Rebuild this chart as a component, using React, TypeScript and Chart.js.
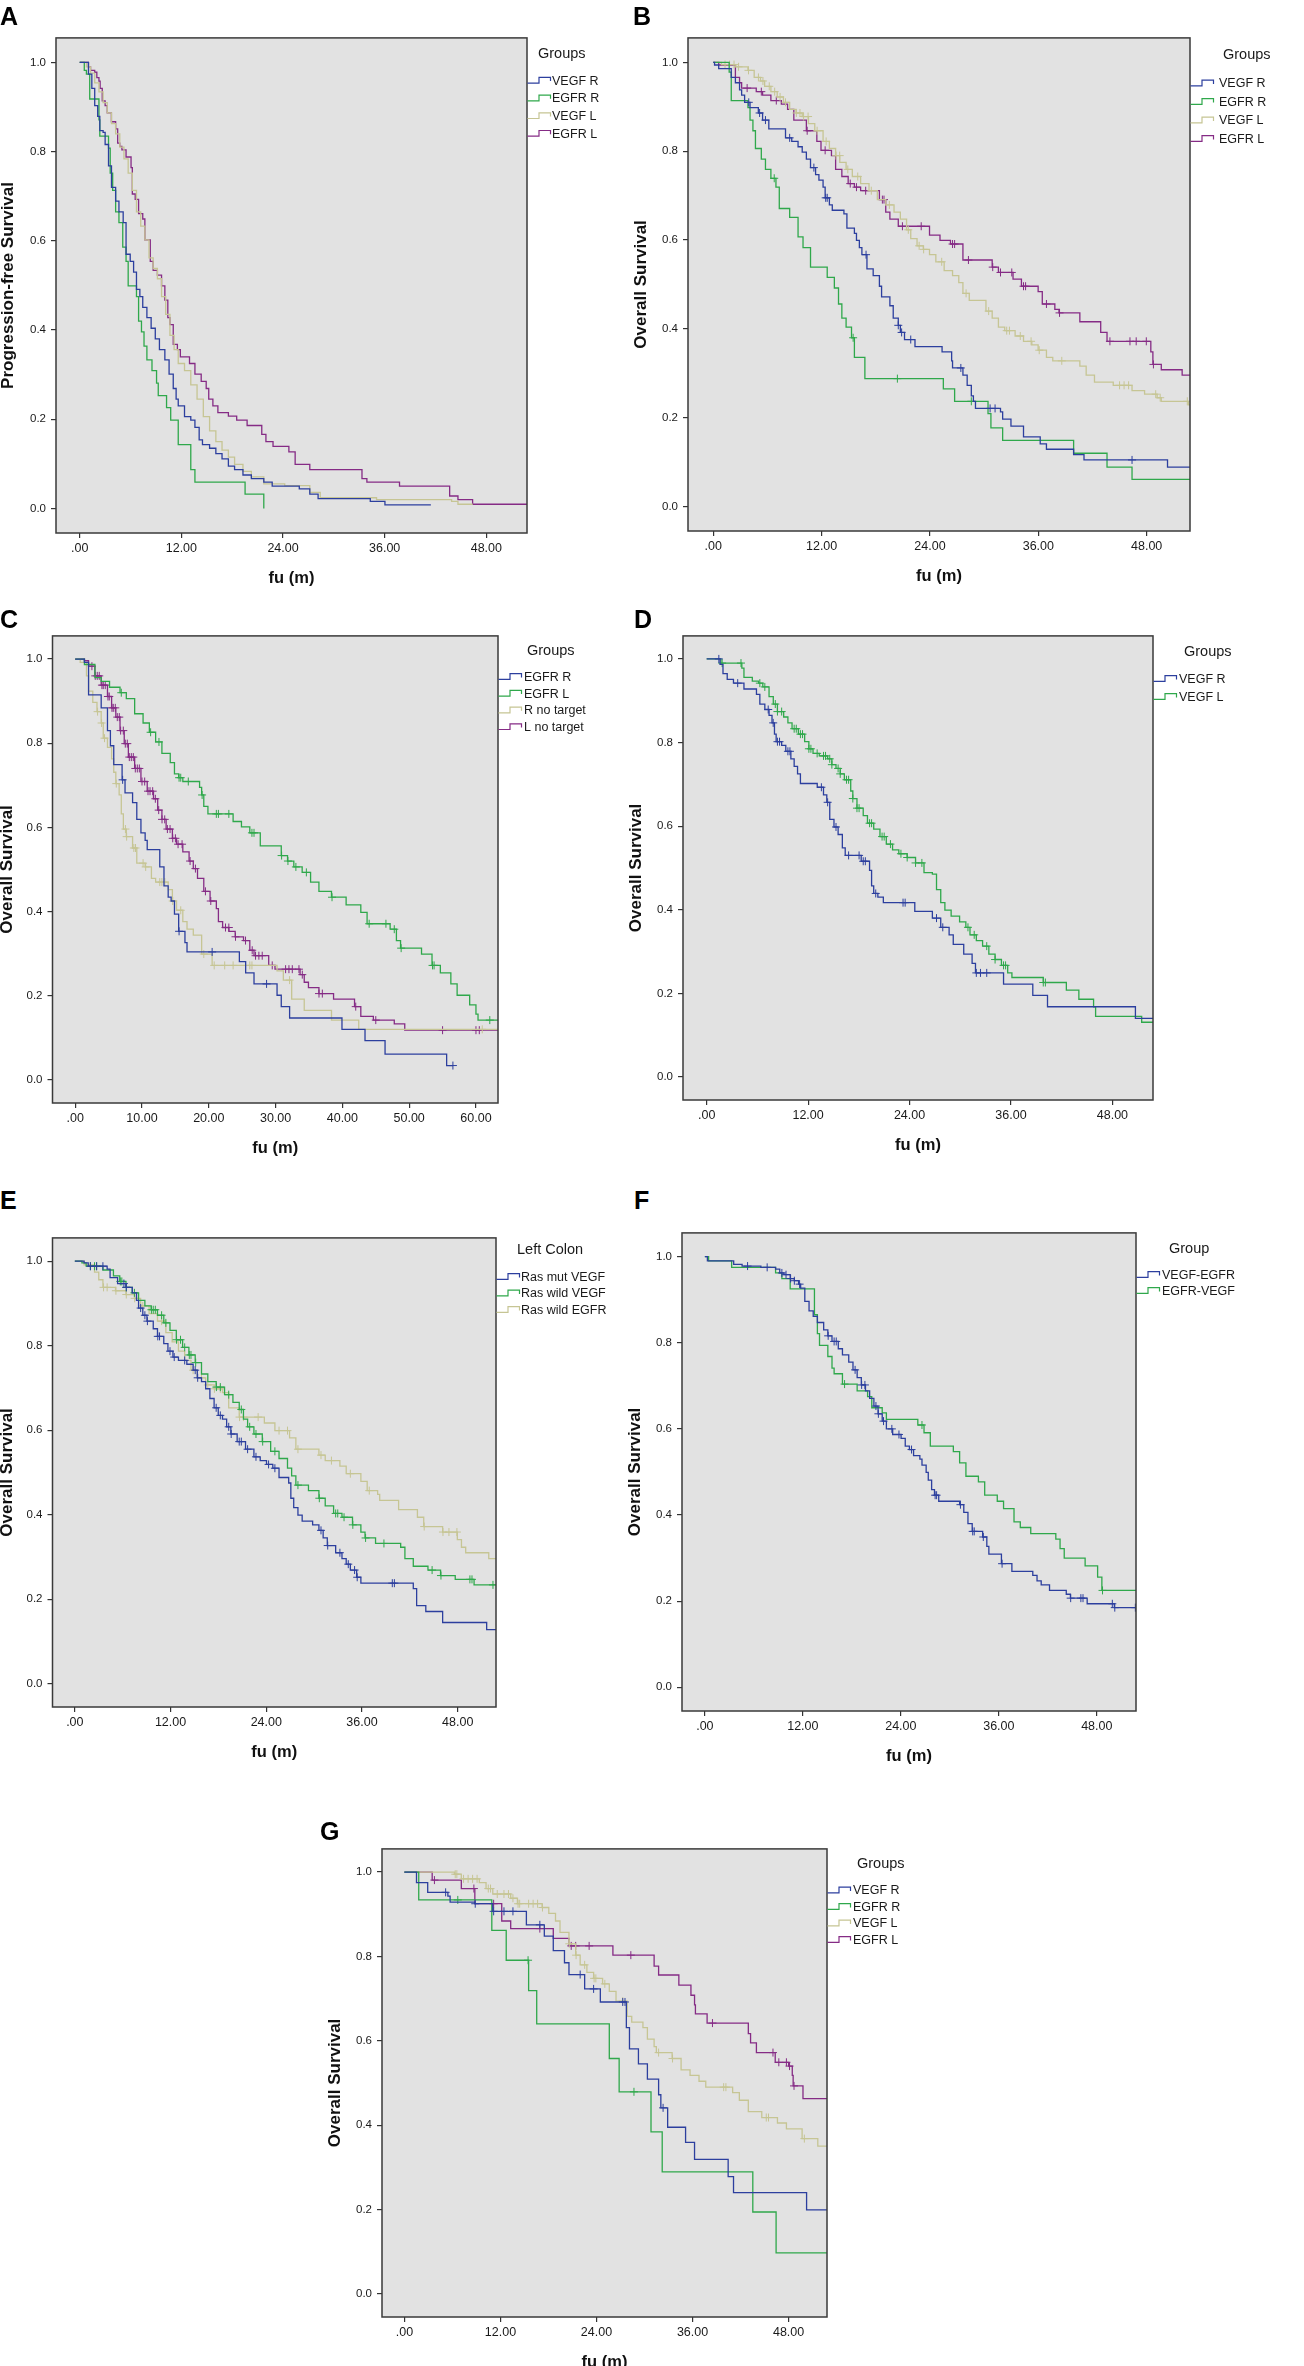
import React, { useEffect, useRef } from 'react';
import { Chart, registerables } from 'chart.js';
Chart.register(...registerables);

const FONT = "'Liberation Sans', Arial, Helvetica, sans-serif";
const BLUE = '#2c3f9e';
const GREEN = '#2fa84b';
const BEIGE = '#c6c594';
const PURPLE = '#852b85';

// ---------- axis ticks ----------
const TICKS_48 = [0, 12, 24, 36, 48];
const TICKS_60 = [0, 10, 20, 30, 40, 50, 60];
const Y_TICKS = [0, 0.2, 0.4, 0.6, 0.8, 1.0];

// ---------- Panel A (progression-free survival) [time, survival] ----------
const A_VEGF_R = [[1.03,.974],[1.43,.942],[1.77,.903],[2.12,.879],[2.37,.847],[2.76,.843],[3.0,.816],[3.4,.768],[3.75,.72],[4.24,.689],[4.63,.665],[5.13,.641],[5.47,.57],[5.96,.554],[6.36,.53],[6.7,.491],[7.1,.475],[7.44,.451],[7.93,.428],[8.43,.404],[8.92,.38],[9.41,.356],[10.05,.333],[10.55,.301],[11.04,.269],[11.38,.245],[11.63,.23],[12.37,.206],[13.11,.198],[13.6,.182],[14.1,.154],[14.49,.143],[15.33,.135],[16.07,.123],[16.8,.111],[17.55,.095],[18.28,.087],[19.27,.075],[20.26,.067],[21.73,.059],[22.72,.05],[25.92,.044],[27.16,.032],[28.14,.022],[34.3,.016],[36.03,.008]];
const A_EGFR_R = [[0.54,.982],[0.79,.974],[1.18,.918],[2.27,.871],[2.37,.835],[3.4,.808],[3.6,.752],[3.89,.713],[4.24,.665],[4.63,.641],[5.08,.586],[5.47,.554],[5.72,.499],[6.7,.475],[6.95,.42],[7.29,.396],[7.59,.364],[7.93,.333],[8.53,.309],[9.07,.281],[9.27,.253],[10.25,.226],[10.74,.198],[11.63,.143],[13.11,.087],[13.6,.059],[19.52,.032],[21.73,0]];
const A_VEGF_L = [[0.79,.99],[1.28,.976],[1.77,.954],[2.27,.934],[2.76,.91],[3.25,.887],[3.75,.863],[4.24,.84],[4.73,.81],[5.22,.784],[5.72,.752],[6.21,.713],[6.7,.665],[7.2,.633],[7.69,.602],[8.18,.562],[8.67,.538],[9.17,.515],[9.66,.475],[10.15,.435],[10.65,.388],[11.14,.356],[11.63,.325],[12.37,.309],[13.11,.277],[13.85,.245],[14.59,.206],[15.33,.174],[16.07,.15],[16.8,.131],[17.55,.115],[18.28,.099],[19.27,.083],[20.26,.071],[21.73,.055],[24.2,.051],[27.16,.036],[28.39,.024],[35.04,.02],[43.9,.016],[44.65,.0095]];
const A_EGFR_L = [[1.03,.99],[1.28,.982],[1.77,.978],[2.02,.966],[2.27,.958],[2.41,.942],[2.66,.914],[3.0,.903],[3.25,.887],[3.74,.867],[4.24,.851],[4.48,.819],[4.73,.812],[4.98,.804],[5.47,.788],[6.06,.764],[6.21,.705],[6.55,.693],[6.95,.661],[7.44,.649],[7.69,.602],[8.33,.554],[8.67,.534],[9.17,.523],[9.66,.499],[10.05,.467],[10.4,.428],[10.65,.412],[11.04,.368],[11.53,.356],[11.88,.34],[12.96,.325],[13.6,.301],[14.34,.285],[14.93,.269],[15.23,.245],[15.72,.23],[16.31,.215],[17.55,.207],[18.53,.198],[19.76,.186],[21.49,.166],[21.98,.15],[22.82,.139],[24.69,.127],[25.43,.099],[27.16,.087],[33.32,.067],[33.9,.059],[37.75,.05],[43.67,.028],[44.65,.02],[46.38,.0095]];

// ---------- Panel B ----------
const B_VEGF_R = [[0.14,.994],[0.6,.986],[1.99,.966],[2.45,.954],[2.91,.938],[3.14,.926],[3.47,.91],[4.07,.898],[4.99,.886],[5.46,.87],[6.15,.85],[8.0,.83],[8.69,.822],[9.39,.81],[9.85,.798],[10.31,.782],[10.77,.763],[11.33,.747],[11.7,.735],[12.16,.719],[12.39,.695],[12.86,.679],[13.18,.667],[14.47,.659],[14.8,.627],[15.63,.615],[15.86,.599],[16.18,.583],[16.46,.567],[17.02,.535],[17.71,.52],[18.4,.496],[18.64,.472],[19.56,.452],[19.93,.424],[20.49,.408],[20.72,.392],[21.18,.376],[22.34,.36],[25.34,.348],[26.4,.328],[26.5,.312],[27.65,.296],[28.12,.273],[28.58,.249],[28.81,.237],[29.04,.221],[31.81,.213],[32.05,.197],[32.97,.181],[34.36,.157],[36.21,.141],[36.9,.129],[39.91,.117],[41.06,.105],[50.31,.089]];
const B_VEGF_R_CENS = [3.93,5.13,5.78,8.46,11.14,12.45,12.62,16.92,20.49,20.86,21.87,27.42,30.66,31.21,46.38];
const B_EGFR_R = [[1.76,.978],[1.99,.914],[3.84,.898],[4.07,.87],[4.39,.846],[4.67,.806],[5.32,.782],[5.78,.759],[6.38,.739],[6.94,.719],[7.31,.671],[8.46,.651],[9.39,.607],[9.94,.583],[10.77,.539],[12.62,.516],[13.41,.492],[13.87,.456],[14.24,.424],[14.71,.404],[15.31,.38],[15.63,.336],[16.79,.288],[25.48,.265],[26.73,.237],[30.43,.209],[30.75,.177],[32.05,.149],[39.91,.12],[43.61,.089],[46.38,.061]];
const B_EGFR_R_CENS = [6.75,15.49,20.39,28.58];
const B_VEGF_L = [[0.9,.995],[2.5,.99],[3.84,.982],[4.53,.966],[5.23,.958],[5.69,.946],[6.38,.934],[7.08,.922],[7.77,.91],[8.46,.894],[9.16,.886],[9.85,.878],[10.54,.862],[11.24,.846],[12.16,.822],[12.86,.806],[13.55,.79],[14.01,.775],[14.71,.759],[15.4,.743],[16.32,.727],[17.25,.711],[18.17,.691],[19.1,.679],[20.02,.663],[20.72,.647],[21.41,.623],[21.87,.603],[22.57,.587],[23.26,.579],[23.95,.567],[24.65,.551],[25.57,.531],[26.5,.52],[27.19,.504],[27.65,.48],[28.35,.464],[30.2,.44],[30.89,.424],[31.58,.404],[32.28,.396],[33.43,.384],[34.36,.372],[35.28,.364],[35.98,.352],[36.9,.336],[37.6,.328],[40.6,.316],[41.3,.296],[42.22,.28],[44.3,.273],[46.38,.261],[47.77,.253],[49.16,.245],[49.62,.237],[52.62,.229]];
const B_VEGF_L_CENS = [1.3,1.8,2.3,2.8,3.9,5.0,5.5,6.2,6.8,7.4,8.0,9.2,9.6,10.0,10.5,11.5,12.5,13.6,14.0,14.9,16.0,17.5,19.5,21.6,22.8,23.3,25.3,28.0,30.5,32.5,32.8,34.0,35.2,36.1,38.6,45.0,45.5,46.0,49.0,49.5,52.5];
const B_EGFR_L = [[0.6,.994],[2.45,.966],[2.91,.954],[3.14,.942],[4.76,.934],[5.46,.926],[6.38,.914],[7.54,.906],[8.23,.894],[8.92,.87],[10.31,.846],[11.47,.822],[11.93,.802],[13.09,.79],[13.55,.759],[14.24,.743],[14.94,.727],[15.63,.719],[16.32,.711],[18.4,.691],[19.1,.663],[19.56,.647],[20.49,.631],[23.95,.611],[25.11,.599],[26.27,.591],[27.65,.555],[30.89,.539],[31.58,.527],[33.2,.512],[34.13,.496],[35.98,.484],[36.44,.456],[37.83,.444],[38.29,.436],[40.6,.416],[42.91,.392],[43.61,.372],[48.46,.348],[48.69,.32],[49.62,.308],[51.93,.296]];
const B_EGFR_L_CENS = [3.75,5.32,6.98,10.4,12.39,15.17,15.86,16.88,18.73,18.91,20.95,23.03,26.5,26.73,28.26,30.95,31.81,33.06,34.36,34.59,36.9,38.35,43.93,46.15,46.84,47.96,48.75];

// ---------- Panel C ----------
const C_EGFR_R = [[1.38,.992],[2.0,.915],[3.89,.884],[4.83,.83],[5.27,.794],[5.77,.749],[7.02,.713],[7.46,.682],[8.59,.659],[9.22,.619],[9.84,.587],[10.47,.569],[10.78,.547],[12.66,.506],[13.29,.461],[13.92,.434],[14.36,.425],[14.86,.394],[15.49,.353],[16.43,.326],[16.74,.304],[24.58,.281],[25.52,.254],[26.77,.228],[30.22,.201],[30.85,.174],[32.1,.147],[39.94,.12],[43.39,.093],[46.39,.061],[55.61,.034]];
const C_EGFR_R_CENS = [7.1,15.55,20.5,28.65,56.55];
const C_EGFR_L = [[1.38,.987],[2.95,.956],[3.89,.947],[5.14,.933],[6.71,.92],[7.65,.906],[8.9,.87],[10.16,.848],[11.1,.826],[12.04,.803],[12.98,.776],[14.23,.754],[14.86,.727],[15.49,.718],[16.11,.709],[18.62,.695],[18.93,.677],[19.25,.65],[19.87,.632],[23.64,.614],[24.89,.601],[26.14,.587],[27.71,.556],[30.85,.533],[31.79,.52],[32.73,.506],[33.98,.493],[35.24,.47],[36.49,.448],[38.37,.434],[40.56,.416],[42.76,.398],[43.7,.371],[47.15,.358],[48.09,.331],[48.71,.313],[51.85,.299],[53.42,.272],[54.67,.254],[56.24,.228],[57.18,.201],[59.06,.178],[60.0,.156],[60.31,.142]];
const C_EGFR_L_CENS = [6.9,11.29,12.54,15.55,15.8,16.93,19.0,21.13,21.44,23.0,26.46,26.77,30.9,31.85,33.04,34.61,38.45,44.01,46.52,47.77,48.8,53.5,53.73,62.07];
const C_R_NT = [[0.75,.992],[1.69,.96],[2.0,.924],[2.63,.897],[3.26,.875],[3.89,.848],[4.2,.812],[4.83,.79],[5.45,.763],[5.77,.731],[6.08,.704],[6.58,.677],[6.9,.632],[7.21,.596],[7.65,.578],[8.59,.551],[9.22,.515],[10.47,.506],[11.41,.479],[12.04,.47],[13.92,.452],[14.55,.425],[15.17,.403],[16.11,.376],[16.74,.358],[17.68,.344],[18.93,.299],[20.5,.272],[30.22,.259],[31.16,.237],[32.41,.192],[34.29,.165],[38.37,.142],[42.45,.12]];
const C_R_NT_CENS = [3.35,3.95,4.39,6.15,7.52,7.7,8.78,9.03,10.16,10.55,12.66,12.98,13.42,14.6,15.8,19.25,20.81,22.38,23.64,26.14,26.46,32.1,60.94];
const C_L_NT = [[1.38,.996],[2.0,.983],[2.95,.96],[3.89,.938],[4.83,.911],[5.45,.884],[6.08,.862],[6.71,.83],[7.34,.799],[7.96,.767],[8.9,.74],[9.84,.709],[10.78,.686],[11.72,.668],[12.35,.641],[12.98,.619],[13.61,.596],[14.55,.574],[15.17,.56],[16.11,.542],[17.05,.52],[17.68,.502],[18.31,.479],[19.25,.448],[20.19,.425],[21.13,.407],[21.44,.376],[22.07,.362],[23.01,.353],[23.95,.34],[25.2,.331],[26.14,.308],[26.77,.295],[28.97,.272],[29.91,.263],[33.67,.25],[34.29,.232],[34.92,.219],[36.49,.205],[38.68,.192],[41.82,.174],[42.76,.151],[44.64,.142],[47.77,.133],[49.34,.118]];
const C_L_NT_CENS = [2.5,3.0,3.3,3.6,4.0,4.2,4.5,4.9,5.1,5.5,5.7,6.0,6.3,6.6,6.8,7.2,7.5,7.8,8.1,8.4,8.7,9.0,9.3,9.6,10.0,10.4,10.9,11.2,11.6,12.0,12.5,13.0,13.4,13.8,14.2,14.6,15.0,15.4,16.0,17.2,18.0,19.5,20.3,22.5,23.0,24.0,25.5,26.5,27.0,27.5,28.0,29.5,31.5,32.0,32.5,33.5,34.0,36.5,37.0,42.0,45.0,55.0,60.0,60.5];

// ---------- Panel D ----------
const D_VEGF_R = [[1.58,.987],[1.93,.965],[2.43,.951],[3.17,.942],[4.41,.928],[5.89,.915],[6.29,.892],[6.88,.879],[7.38,.865],[7.73,.847],[8.02,.82],[8.22,.802],[8.87,.793],[9.36,.779],[9.96,.761],[10.35,.743],[10.75,.725],[11.09,.702],[13.08,.693],[13.82,.675],[14.21,.657],[14.56,.616],[15.06,.598],[15.55,.58],[16.05,.548],[16.39,.53],[18.28,.516],[19.27,.494],[19.51,.457],[19.76,.439],[20.25,.43],[20.9,.417],[24.62,.396],[26.7,.38],[27.69,.358],[28.68,.34],[29.17,.317],[30.41,.294],[31.4,.272],[31.8,.249],[35.12,.222],[38.58,.195],[40.32,.168],[50.72,.14]];
const D_VEGF_R_CENS = [1.44,3.67,7.28,7.87,8.37,8.62,9.61,9.85,13.57,14.31,15.3,16.79,18.03,18.52,18.77,20.0,23.23,23.48,27.19,27.93,31.9,32.39,33.13];
const D_VEGF_L = [[1.68,.99],[4.16,.978],[4.41,.956],[5.4,.947],[6.14,.942],[6.64,.933],[7.38,.91],[7.88,.892],[8.37,.874],[9.11,.861],[9.61,.847],[10.1,.833],[10.85,.82],[11.59,.802],[12.09,.785],[12.58,.774],[13.32,.768],[14.31,.761],[14.81,.747],[15.3,.738],[15.8,.725],[16.29,.711],[17.04,.684],[17.29,.666],[17.78,.643],[18.52,.625],[19.02,.607],[19.76,.593],[20.5,.575],[21.25,.557],[21.99,.543],[22.73,.534],[23.72,.525],[24.71,.512],[25.71,.489],[26.7,.485],[27.19,.448],[27.69,.417],[28.18,.399],[28.92,.385],[29.92,.371],[30.66,.358],[31.15,.34],[31.9,.326],[32.64,.313],[33.38,.294],[34.12,.281],[34.87,.267],[35.61,.249],[36.11,.238],[39.82,.226],[42.55,.208],[44.03,.186],[45.77,.168],[46.01,.145],[51.46,.131]];
const D_VEGF_L_CENS = [1.83,4.06,6.29,6.88,8.12,8.37,8.87,10.35,10.6,11.09,11.34,12.09,12.33,13.07,13.82,14.06,14.56,14.81,15.55,15.8,16.54,16.79,17.29,17.78,18.03,19.27,19.51,20.75,21.0,21.74,22.98,23.72,24.71,25.46,30.91,31.65,33.13,34.12,35.12,35.36,39.82,40.07];

// ---------- Panel E (Left Colon) ----------
const E_RAS_MUT_VEGF = [[1.16,.996],[1.68,.988],[4.05,.981],[4.42,.961],[5.36,.947],[6.41,.938],[7.2,.925],[7.73,.907],[7.99,.889],[8.52,.872],[9.04,.858],[9.83,.84],[10.36,.822],[11.15,.805],[11.67,.787],[12.3,.773],[12.99,.765],[14.04,.756],[14.83,.742],[15.35,.724],[15.88,.715],[16.4,.698],[16.93,.675],[17.46,.653],[17.98,.635],[18.51,.626],[19.03,.608],[19.56,.591],[20.35,.573],[21.4,.555],[22.45,.537],[23.24,.528],[24.03,.519],[24.82,.51],[25.6,.488],[26.81,.475],[27.08,.439],[27.44,.417],[27.97,.399],[28.5,.385],[29.81,.376],[30.6,.363],[31.13,.345],[31.65,.327],[32.7,.31],[33.49,.296],[34.02,.283],[34.54,.269],[35.33,.252],[35.86,.238],[42.43,.225],[42.85,.185],[44.0,.171],[46.11,.145],[51.63,.128]];
const E_RAS_MUT_VEGF_CENS = [1.95,2.73,3.52,6.15,6.45,8.25,8.78,9.1,10.4,10.62,11.93,12.46,13.77,15.09,15.4,17.72,18.24,19.29,19.6,20.61,20.87,21.66,22.71,24.29,25.08,30.86,31.7,33.23,34.28,35.07,35.4,39.8,40.06];
const E_RAS_WILD_VEGF = [[0.89,.996],[1.42,.988],[3.52,.979],[4.84,.965],[5.63,.952],[6.41,.938],[7.2,.925],[7.99,.907],[8.78,.894],[9.57,.885],[10.36,.872],[11.15,.854],[11.93,.836],[12.72,.814],[13.51,.796],[14.3,.778],[15.09,.76],[15.88,.733],[16.67,.715],[17.72,.702],[18.77,.684],[19.82,.666],[20.61,.649],[21.14,.626],[21.66,.608],[22.45,.591],[23.5,.573],[24.55,.55],[25.6,.533],[26.66,.51],[27.18,.492],[27.71,.47],[29.29,.457],[30.6,.439],[31.39,.421],[32.44,.403],[33.49,.394],[34.81,.376],[35.86,.359],[36.38,.345],[37.7,.332],[40.85,.323],[41.38,.296],[42.43,.278],[44.27,.269],[45.85,.256],[47.69,.247],[50.05,.234]];
const E_RAS_WILD_VEGF_CENS = [1.95,2.47,2.73,5.7,5.89,6.45,7.47,9.6,9.83,10.09,10.88,11.41,12.75,13.25,13.77,14.35,14.56,15.15,17.75,18.24,19.29,20.87,21.92,22.71,23.55,25.08,27.97,30.65,32.7,32.96,33.75,34.85,36.45,38.75,44.79,45.9,49.53,49.79,52.42];
const E_RAS_WILD_EGFR = [[1.16,.991],[2.47,.974],[3.0,.956],[3.52,.938],[5.1,.93],[6.41,.921],[7.47,.912],[8.25,.894],[9.31,.876],[10.36,.858],[11.41,.831],[12.2,.809],[12.99,.787],[13.77,.765],[14.56,.742],[15.35,.724],[16.4,.707],[17.46,.698],[18.51,.689],[19.29,.653],[20.61,.631],[23.76,.617],[25.08,.599],[26.92,.582],[27.71,.555],[30.6,.541],[31.39,.528],[33.23,.515],[34.02,.497],[35.86,.479],[36.65,.457],[37.96,.448],[38.22,.434],[40.59,.412],[42.95,.394],[43.74,.372],[46.11,.359],[47.95,.341],[48.47,.323],[49.0,.31],[51.89,.296]];
const E_RAS_WILD_EGFR_CENS = [3.6,4.05,5.15,6.45,7.5,8.52,10.88,14.83,15.88,16.67,17.5,18.24,20.65,21.14,22.98,25.6,26.66,27.97,30.86,32.17,34.54,36.91,43.8,46.15,46.9,47.9];

// ---------- Panel F ----------
const F_VEGF_EGFR = [[0.31,.99],[3.53,.982],[4.56,.978],[6.86,.975],[8.66,.971],[9.17,.962],[9.68,.958],[10.45,.949],[10.96,.944],[11.48,.936],[11.73,.927],[12.24,.896],[12.76,.874],[13.27,.861],[13.78,.847],[14.55,.83],[15.06,.816],[15.57,.803],[16.34,.786],[16.85,.772],[17.62,.755],[18.14,.737],[18.65,.719],[19.16,.702],[19.67,.688],[20.18,.671],[20.7,.653],[21.21,.635],[21.72,.618],[22.23,.6],[23.0,.587],[24.03,.578],[24.54,.56],[25.05,.552],[25.56,.538],[26.33,.53],[26.59,.516],[27.1,.499],[27.36,.481],[27.77,.459],[28.12,.446],[28.64,.432],[31.2,.424],[31.71,.406],[32.22,.38],[32.74,.362],[34.02,.349],[34.53,.327],[34.78,.309],[36.32,.287],[37.6,.269],[40.16,.26],[40.68,.247],[41.19,.238],[42.21,.225],[44.26,.216],[44.77,.207],[46.82,.194],[50.15,.185]];
const F_VEGF_EGFR_CENS = [5.23,7.63,9.43,9.94,10.5,10.96,11.6,15.1,15.83,16.09,18.4,19.2,19.6,20.95,21.25,21.88,22.9,23.77,25.31,28.2,28.38,31.3,32.8,32.99,34.1,36.4,44.8,46.05,46.31,49.9,50.2,52.72];
const F_EGFR_VEGF = [[0.46,.99],[3.28,.975],[8.66,.962],[9.43,.949],[10.45,.925],[13.42,.865],[13.78,.821],[14.04,.794],[15.06,.768],[15.57,.741],[15.83,.728],[16.85,.704],[18.65,.688],[19.93,.675],[20.44,.649],[21.72,.637],[22.23,.622],[26.08,.609],[26.84,.591],[27.61,.56],[30.43,.547],[31.2,.521],[31.97,.49],[33.5,.477],[34.27,.446],[35.81,.432],[36.58,.415],[37.86,.384],[38.63,.371],[39.91,.357],[42.98,.344],[43.5,.322],[44.01,.3],[46.57,.282],[48.1,.256],[48.62,.225]];
const F_EGFR_VEGF_CENS = [17.11,26.59,48.7];

// ---------- Panel G ----------
const G_VEGF_R = [[1.51,.975],[2.91,.952],[5.43,.943],[5.71,.929],[8.8,.925],[11.04,.907],[15.24,.875],[17.48,.848],[18.6,.814],[20.0,.785],[20.56,.757],[22.52,.723],[24.48,.692],[27.73,.631],[28.12,.581],[29.24,.545],[30.36,.509],[31.76,.472],[32.04,.441],[32.89,.395],[35.13,.359],[36.25,.319],[40.45,.278],[41.12,.24],[50.25,.199]];
const G_VEGF_R_CENS = [5.15,8.85,11.15,12.44,13.56,16.92,21.96,23.64,27.28,27.56,32.32];
const G_EGFR_R = [[1.79,.934],[10.92,.862],[12.72,.791],[15.52,.719],[16.53,.64],[25.6,.558],[26.83,.479],[30.81,.384],[32.21,.289],[43.53,.194],[46.44,.097]];
const G_EGFR_R_CENS = [6.67,15.45,28.68];
const G_VEGF_L = [[6.27,.995],[7.11,.984],[9.36,.975],[10.2,.961],[11.04,.948],[13.28,.938],[14.12,.925],[17.2,.916],[18.04,.902],[18.88,.884],[19.44,.857],[20.56,.83],[21.4,.803],[21.96,.78],[22.8,.762],[23.64,.748],[24.76,.735],[25.6,.717],[26.44,.694],[27.84,.658],[28.4,.644],[29.8,.631],[30.36,.604],[31.2,.586],[31.48,.572],[33.45,.558],[34.57,.531],[35.69,.518],[36.81,.504],[37.65,.49],[41.01,.477],[41.85,.459],[42.97,.432],[44.65,.418],[46.61,.405],[47.73,.391],[49.69,.368],[51.65,.35]];
const G_VEGF_L_CENS = [6.35,6.55,7.39,7.96,8.52,9.08,10.48,10.76,11.6,12.44,13.0,13.56,14.2,14.4,15.52,16.08,16.64,17.25,20.6,21.45,22.52,23.7,23.92,25.04,27.28,31.76,33.5,39.89,40.17,45.21,45.49,49.97];
const G_EGFR_L = [[3.47,.981],[7.11,.961],[8.8,.925],[12.16,.884],[13.28,.866],[18.6,.843],[20.56,.825],[26.05,.803],[31.2,.777],[31.76,.756],[34.29,.732],[35.8,.708],[36.25,.685],[36.36,.664],[37.82,.642],[42.97,.617],[43.25,.595],[43.98,.572],[46.33,.549],[48.01,.54],[48.46,.518],[48.57,.493],[49.8,.463]];
const G_EGFR_L_CENS = [3.75,8.68,11.15,16.92,20.84,21.4,23.08,28.29,38.49,46.05,46.78,47.73,48.12,48.68];

// ---------- layout / panel definitions ----------
type Series = { label: string; color: string; pts: number[][]; end: number; cens?: number[] };
type Panel = {
  letter: string; letterPos: [number, number];
  frame: [number, number, number, number]; yw: number;
  xMin: number; xMax: number; xTicks: number[];
  yTitle: string; legendTitle: string;
  lg: { titleX: number; titleY: number; y0: number; dy: number; textX: number };
  series: Series[];
};

const X_END = 52.8;

const PANELS: Panel[] = [
  {
    letter: 'A', letterPos: [0, 4], frame: [56, 31, 527, 533], yw: 58, xMin: -2.8, xMax: X_END, xTicks: TICKS_48,
    yTitle: 'Progression-free Survival', legendTitle: 'Groups',
    lg: { titleX: 11, titleY: 16.5, y0: 42.7, dy: 17.7, textX: 25 },
    series: [
      { label: 'VEGF R', color: BLUE, pts: A_VEGF_R, end: 41.45 },
      { label: 'EGFR R', color: GREEN, pts: A_EGFR_R, end: 21.73 },
      { label: 'VEGF L', color: BEIGE, pts: A_VEGF_L, end: 46.4 },
      { label: 'EGFR L', color: PURPLE, pts: A_EGFR_L, end: X_END },
    ],
  },
  {
    letter: 'B', letterPos: [633, 4], frame: [688, 31, 1190, 531], yw: 57, xMin: -2.8, xMax: X_END, xTicks: TICKS_48,
    yTitle: 'Overall Survival', legendTitle: 'Groups',
    lg: { titleX: 33, titleY: 17, y0: 45.5, dy: 18.5, textX: 29 },
    series: [
      { label: 'VEGF R', color: BLUE, pts: B_VEGF_R, end: X_END, cens: B_VEGF_R_CENS },
      { label: 'EGFR R', color: GREEN, pts: B_EGFR_R, end: X_END, cens: B_EGFR_R_CENS },
      { label: 'VEGF L', color: BEIGE, pts: B_VEGF_L, end: X_END, cens: B_VEGF_L_CENS },
      { label: 'EGFR L', color: PURPLE, pts: B_EGFR_L, end: X_END, cens: B_EGFR_L_CENS },
    ],
  },
  {
    letter: 'C', letterPos: [0, 607], frame: [52, 629, 497, 1103], yw: 55.5, xMin: -3.4, xMax: 63.3, xTicks: TICKS_60,
    yTitle: 'Overall Survival', legendTitle: 'Groups',
    lg: { titleX: 29, titleY: 15, y0: 41, dy: 16.7, textX: 26 },
    series: [
      { label: 'EGFR R', color: BLUE, pts: C_EGFR_R, end: 56.55, cens: C_EGFR_R_CENS },
      { label: 'EGFR L', color: GREEN, pts: C_EGFR_L, end: 63.3, cens: C_EGFR_L_CENS },
      { label: 'R no target', color: BEIGE, pts: C_R_NT, end: 63.3, cens: C_R_NT_CENS },
      { label: 'L no target', color: PURPLE, pts: C_L_NT, end: 63.3, cens: C_L_NT_CENS },
    ],
  },
  {
    letter: 'D', letterPos: [634, 607], frame: [683, 629, 1153, 1100], yw: 57, xMin: -2.8, xMax: X_END, xTicks: TICKS_48,
    yTitle: 'Overall Survival', legendTitle: 'Groups',
    lg: { titleX: 31, titleY: 16, y0: 43, dy: 18, textX: 26 },
    series: [
      { label: 'VEGF R', color: BLUE, pts: D_VEGF_R, end: X_END, cens: D_VEGF_R_CENS },
      { label: 'VEGF L', color: GREEN, pts: D_VEGF_L, end: X_END, cens: D_VEGF_L_CENS },
    ],
  },
  {
    letter: 'E', letterPos: [0, 1188], frame: [52, 1231, 495, 1707], yw: 55.5, xMin: -2.8, xMax: X_END, xTicks: TICKS_48,
    yTitle: 'Overall Survival', legendTitle: 'Left Colon',
    lg: { titleX: 21, titleY: 12.5, y0: 39, dy: 16.5, textX: 25 },
    series: [
      { label: 'Ras mut VEGF', color: BLUE, pts: E_RAS_MUT_VEGF, end: X_END, cens: E_RAS_MUT_VEGF_CENS },
      { label: 'Ras wild VEGF', color: GREEN, pts: E_RAS_WILD_VEGF, end: X_END, cens: E_RAS_WILD_VEGF_CENS },
      { label: 'Ras wild EGFR', color: BEIGE, pts: E_RAS_WILD_EGFR, end: X_END, cens: E_RAS_WILD_EGFR_CENS },
    ],
  },
  {
    letter: 'F', letterPos: [634, 1188], frame: [682, 1226, 1136, 1711], yw: 57, xMin: -2.8, xMax: X_END, xTicks: TICKS_48,
    yTitle: 'Overall Survival', legendTitle: 'Group',
    lg: { titleX: 33, titleY: 16, y0: 42, dy: 16, textX: 26 },
    series: [
      { label: 'VEGF-EGFR', color: BLUE, pts: F_VEGF_EGFR, end: 52.72, cens: F_VEGF_EGFR_CENS },
      { label: 'EGFR-VEGF', color: GREEN, pts: F_EGFR_VEGF, end: X_END, cens: F_EGFR_VEGF_CENS },
    ],
  },
  {
    letter: 'G', letterPos: [320, 1819], frame: [382, 1842, 827, 2317], yw: 57, xMin: -2.8, xMax: X_END, xTicks: TICKS_48,
    yTitle: 'Overall Survival', legendTitle: 'Groups',
    lg: { titleX: 30, titleY: 15, y0: 41.5, dy: 16.5, textX: 26 },
    series: [
      { label: 'VEGF R', color: BLUE, pts: G_VEGF_R, end: X_END, cens: G_VEGF_R_CENS },
      { label: 'EGFR R', color: GREEN, pts: G_EGFR_R, end: X_END, cens: G_EGFR_R_CENS },
      { label: 'VEGF L', color: BEIGE, pts: G_VEGF_L, end: X_END, cens: G_VEGF_L_CENS },
      { label: 'EGFR L', color: PURPLE, pts: G_EGFR_L, end: X_END, cens: G_EGFR_L_CENS },
    ],
  },
];

const X_AXIS_H = 55;
const PAD_TOP = 5;
const PAD_RIGHT = 110;

function survivalAt(pts: number[][], t: number): number {
  let v = 1;
  for (const p of pts) {
    if (p[0] <= t) v = p[1];
    else break;
  }
  return v;
}

function PanelChart({ p }: { p: Panel }) {
  const ref = useRef<HTMLCanvasElement | null>(null);
  const [l, t, r, b] = p.frame;
  const W = Math.round(r - l + p.yw + PAD_RIGHT);
  const H = b - t + PAD_TOP + X_AXIS_H;

  useEffect(() => {
    if (!ref.current) return;
    const datasets: any[] = [];
    p.series.forEach((s) => {
      const last = s.pts[s.pts.length - 1][1];
      const data = [{ x: 0, y: 1 }, ...s.pts.map((q) => ({ x: q[0], y: q[1] })), { x: s.end, y: last }];
      datasets.push({
        type: 'line', data, borderColor: s.color, borderWidth: 1.3, stepped: 'before',
        pointRadius: 0, pointHoverRadius: 0, fill: false, tension: 0,
      });
      if (s.cens) {
        datasets.push({
          type: 'line', showLine: false,
          data: s.cens.map((c) => ({ x: c, y: survivalAt(s.pts, c) })),
          pointStyle: 'cross', pointRadius: 4, pointHoverRadius: 4,
          borderColor: s.color, pointBorderColor: s.color, pointBorderWidth: 1, borderWidth: 1,
        });
      }
    });

    const bgPlugin = {
      id: 'spssFrame',
      beforeDatasetsDraw(chart: any) {
        const { ctx, chartArea: a } = chart;
        ctx.save();
        ctx.fillStyle = '#e2e2e2';
        ctx.fillRect(a.left, a.top, a.right - a.left, a.bottom - a.top);
        ctx.restore();
      },
      afterDatasetsDraw(chart: any) {
        const { ctx, chartArea: a } = chart;
        ctx.save();
        ctx.strokeStyle = '#3a3a3a';
        ctx.lineWidth = 1.5;
        ctx.strokeRect(a.left, a.top, a.right - a.left, a.bottom - a.top);
        ctx.restore();
      },
    };

    const legendPlugin = {
      id: 'spssLegend',
      afterDraw(chart: any) {
        const { ctx, chartArea: a } = chart;
        ctx.save();
        ctx.textBaseline = 'middle';
        ctx.textAlign = 'left';
        ctx.fillStyle = '#1a1a1a';
        ctx.font = `14.5px ${FONT}`;
        ctx.fillText(p.legendTitle, a.right + p.lg.titleX, a.top + p.lg.titleY);
        p.series.forEach((s, i) => {
          const y = a.top + p.lg.y0 + i * p.lg.dy;
          const x0 = a.right + 0.5;
          ctx.strokeStyle = s.color;
          ctx.lineWidth = 1.2;
          ctx.beginPath();
          ctx.moveTo(x0, y + 2.5);
          ctx.lineTo(x0 + 11.5, y + 2.5);
          ctx.lineTo(x0 + 11.5, y - 3.2);
          ctx.lineTo(x0 + 23, y - 3.2);
          ctx.lineTo(x0 + 23, y + 0.5);
          ctx.stroke();
          ctx.fillStyle = '#1a1a1a';
          ctx.font = `12.5px ${FONT}`;
          ctx.fillText(s.label, a.right + p.lg.textX, y + 0.5);
        });
        ctx.restore();
      },
    };

    const gridOpts = { display: true, drawOnChartArea: false, drawTicks: true, tickLength: 5, color: '#333', lineWidth: 1.2 };

    const chart = new Chart(ref.current, {
      type: 'line',
      data: { datasets },
      plugins: [bgPlugin, legendPlugin],
      options: {
        animation: false,
        responsive: false,
        maintainAspectRatio: false,
        events: [],
        layout: { padding: { left: 0, top: PAD_TOP, right: PAD_RIGHT, bottom: 0 } },
        plugins: { legend: { display: false }, tooltip: { enabled: false }, title: { display: false } },
        scales: {
          x: {
            type: 'linear', min: p.xMin, max: p.xMax,
            afterBuildTicks: (sc: any) => { sc.ticks = p.xTicks.map((v) => ({ value: v })); },
            afterFit: (sc: any) => { sc.height = X_AXIS_H; },
            grid: gridOpts,
            border: { display: false },
            ticks: {
              autoSkip: false, maxRotation: 0, padding: 3, color: '#1a1a1a',
              font: { family: FONT, size: 12.5 },
              callback: (v: any) => (Number(v) === 0 ? '.00' : Number(v).toFixed(2)),
            },
            title: { display: true, text: 'fu (m)', color: '#111', padding: 0, font: { family: FONT, size: 16.5, weight: 'bold' } },
          },
          y: {
            type: 'linear', min: -0.055, max: 1.055,
            afterBuildTicks: (sc: any) => { sc.ticks = Y_TICKS.map((v) => ({ value: v })); },
            afterFit: (sc: any) => { sc.width = p.yw; },
            grid: gridOpts,
            border: { display: false },
            ticks: {
              autoSkip: false, padding: 5, color: '#1a1a1a',
              font: { family: FONT, size: 11.5 },
              callback: (v: any) => Number(v).toFixed(1),
            },
            title: { display: true, text: p.yTitle, color: '#111', padding: 0, font: { family: FONT, size: 17, weight: 'bold' } },
          },
        },
      } as any,
    });
    return () => chart.destroy();
  }, []);

  return (
    <canvas
      ref={ref}
      width={W}
      height={H}
      style={{ position: 'absolute', left: l - p.yw, top: t - PAD_TOP, width: W, height: H }}
    />
  );
}

export default function App() {
  return (
    <div style={{ position: 'absolute', left: 0, top: 0, width: 1304, height: 2366, overflow: 'hidden', background: '#fff' }}>
      {PANELS.map((p) => (
        <React.Fragment key={p.letter}>
          <PanelChart p={p} />
          <div
            style={{
              position: 'absolute', left: p.letterPos[0], top: p.letterPos[1],
              font: `bold 25px ${FONT}`, lineHeight: '25px', color: '#000',
            }}
          >
            {p.letter}
          </div>
        </React.Fragment>
      ))}
    </div>
  );
}
